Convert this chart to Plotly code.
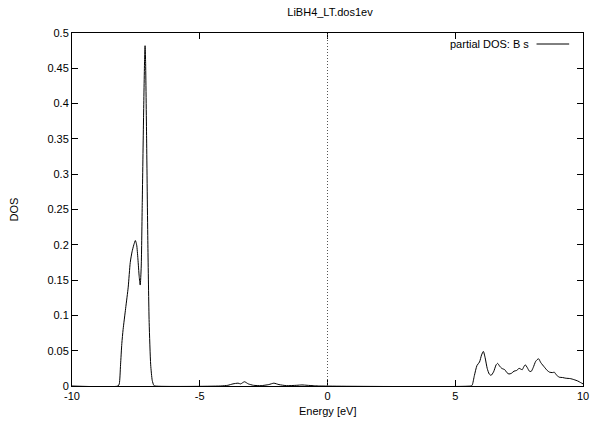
import plotly.graph_objects as go

# Energy grid (eV) and partial DOS values
energy = [-10.0, -8.2, -8.15, -8.1, -8.05, -8.0, -7.9, -7.8, -7.72, -7.65, -7.58, -7.52, -7.47, -7.42,
          -7.37, -7.33, -7.29, -7.25, -7.2, -7.16, -7.14, -7.12, -7.08, -7.03, -6.98, -6.92, -6.86,
          -6.8, -6.75,
          -4.2, -3.9, -3.7, -3.5, -3.4, -3.25, -3.1, -2.9, -2.6, -2.3, -2.1, -1.9, -1.6, -1.2, -1.0,
          -0.8, -0.5, -0.3,
          5.6, 5.66, 5.75, 5.85, 5.95, 6.03, 6.1, 6.17, 6.25, 6.33, 6.4, 6.5, 6.6, 6.66, 6.74, 6.82,
          6.94, 7.02, 7.1, 7.2, 7.3, 7.4, 7.5, 7.56, 7.62, 7.68, 7.74, 7.82, 7.9, 7.97, 8.05, 8.15,
          8.26, 8.35, 8.49, 8.6, 8.69, 8.8, 8.88, 8.95, 9.07, 9.2, 9.33, 9.5, 9.65, 9.8, 9.9, 10.0]
dos = [0.0, 0.0, 0.003, 0.03, 0.06, 0.08, 0.11, 0.14, 0.175, 0.19, 0.2, 0.206, 0.2, 0.18,
       0.155, 0.143, 0.17, 0.26, 0.38, 0.46, 0.482, 0.46, 0.35, 0.2, 0.09, 0.03, 0.008,
       0.001, 0.0,
       0.0, 0.001, 0.003, 0.004, 0.003, 0.006, 0.003, 0.001, 0.0005, 0.002, 0.004, 0.002, 0.0005,
       0.001, 0.0015, 0.001, 0.0003, 0.0,
       0.0, 0.001, 0.015, 0.029, 0.034, 0.044, 0.049, 0.04, 0.025, 0.017, 0.015, 0.02, 0.03, 0.032,
       0.028, 0.025, 0.023, 0.019, 0.017, 0.018, 0.021, 0.022, 0.025, 0.024, 0.023, 0.027, 0.030,
       0.026, 0.021, 0.0206, 0.026, 0.035, 0.0386, 0.033, 0.0267, 0.022, 0.0196, 0.019, 0.0195,
       0.016, 0.0125, 0.012, 0.011, 0.0105, 0.009, 0.007, 0.005, 0.003]

x_tickvals = [-10, -5, 0, 5, 10]
x_ticktext = ["-10", "-5", "0", "5", "10"]
y_tickvals = [0, 0.05, 0.1, 0.15, 0.2, 0.25, 0.3, 0.35, 0.4, 0.45, 0.5]
y_ticktext = ["0", "0.05", "0.1", "0.15", "0.2", "0.25", "0.3", "0.35", "0.4", "0.45", "0.5"]

title_text = "LiBH4_LT.dos1ev"
series_name = "partial DOS: B s"

FONT = "Liberation Sans, Arial, sans-serif"

W, H = 596, 424
L, R, T, B = 72, 7, 33, 38
PW = W - L - R
PH = H - T - B

fig = go.Figure()
fig.add_trace(go.Scatter(x=energy, y=dos, mode="lines", name=series_name,
                         line=dict(color="black", width=1, shape="spline", smoothing=0.6),
                         showlegend=False, hoverinfo="skip"))

axis_common = dict(showline=True, linecolor="black", linewidth=1, mirror="ticks",
                   ticks="inside", ticklen=6, tickcolor="black", tickwidth=1,
                   showgrid=False, zeroline=False,
                   tickfont=dict(family=FONT, size=11, color="black"))

fig.update_xaxes(range=[-10, 10], tickvals=x_tickvals, ticktext=x_ticktext, **axis_common)
fig.update_yaxes(range=[0, 0.5], tickvals=y_tickvals, ticktext=y_ticktext, **axis_common)

# dotted line at zero energy
fig.add_shape(type="line", xref="x", yref="paper", x0=0, x1=0, y0=0, y1=1,
              line=dict(color="#555555", width=1, dash="1px,2px"))

# legend (text followed by line sample, gnuplot style)
fig.add_annotation(text=series_name, xref="paper", yref="paper", x=(536 - L) / PW, y=1 - 11 / PH,
                   xanchor="right", yanchor="middle",
                   showarrow=False, font=dict(family=FONT, size=11, color="black"))
fig.add_shape(type="line", xref="paper", yref="paper", x0=(542 - L) / PW, x1=(575 - L) / PW,
              y0=1 - 11 / PH, y1=1 - 11 / PH, line=dict(color="black", width=1))

# axis titles
fig.add_annotation(text="Energy [eV]", xref="paper", yref="paper", x=0.5, y=0,
                   xanchor="center", yanchor="middle", yshift=-25, showarrow=False,
                   font=dict(family=FONT, size=11, color="black"))
fig.add_annotation(text="DOS", xref="paper", yref="paper", x=0, y=0.5,
                   xanchor="center", yanchor="middle", xshift=-59, textangle=-90,
                   showarrow=False, font=dict(family=FONT, size=11, color="black"))

fig.update_layout(
    width=W, height=H,
    margin=dict(l=L, r=R, t=T, b=B, pad=0),
    paper_bgcolor="white", plot_bgcolor="white",
    title=dict(text=title_text, x=330 / W, xanchor="center", y=1 - 12 / H, yanchor="middle",
               font=dict(family=FONT, size=11, color="black")),
    font=dict(family=FONT, size=11, color="black"),
    hovermode=False,
)

# remove the default page margin so the figure sits at the window's top-left corner
fig.write_html("out.html",
               config={"displayModeBar": False, "staticPlot": True},
               post_script="document.documentElement.style.margin='0';"
                           "document.body.style.margin='0';"
                           "document.body.style.overflow='hidden';")
